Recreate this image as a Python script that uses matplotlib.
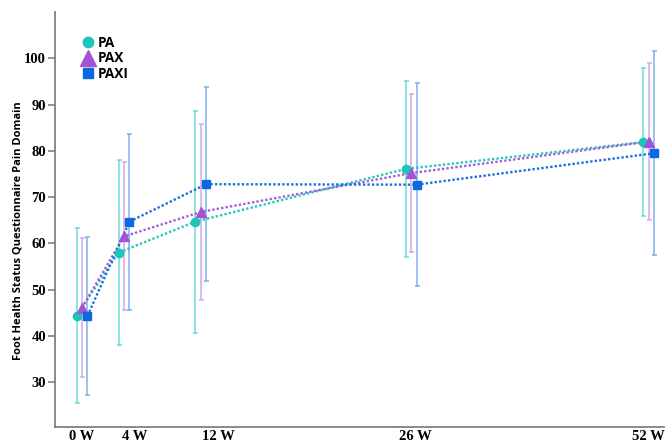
import matplotlib
matplotlib.use("Agg")
import matplotlib.pyplot as plt
from matplotlib.lines import Line2D

# ---- data ----
time_labels = ["0 W", "4 W", "12 W", "26 W", "52 W"]
group_pos = [0, 3.85, 10.9, 30.2, 52]          # marker group centres on the axis
label_pos = [0, 4.85, 12.5, 30.6, 52]          # tick label positions
groups = ["PA", "PAX", "PAXI"]
pa_mean = [44.4, 58.0, 64.7, 76.1, 81.9]
pa_sd = [19.0, 20.0, 24.0, 19.0, 16.0]
pax_mean = [46.1, 61.5, 66.8, 75.2, 82.0]
pax_sd = [15.0, 16.0, 19.0, 17.0, 17.0]
paxi_mean = [44.3, 64.7, 72.8, 72.7, 79.5]
paxi_sd = [17.0, 19.0, 21.0, 22.0, 22.0]

means = [pa_mean, pax_mean, paxi_mean]
sds = [pa_sd, pax_sd, paxi_sd]
offsets = [-0.5, 0.0, 0.5]
markers = ["o", "^", "s"]
msizes = [6, 7.5, 6]
mcolors = ["#1CC6B6", "#A452D8", "#0A68E0"]
ecolors = ["#52D6D0", "#C89AEC", "#6AA3EC"]
lcolors = ["#22C9BC", "#A85CDB", "#1A6FE2"]

fig = plt.figure(figsize=(6.65, 4.43), dpi=100)
ax = fig.add_axes([55/665, 16/443, 1 - 55/665, (427 - 11.7)/443])

for i in range(3):
    xs = [p + offsets[i] for p in group_pos]
    ax.errorbar(xs, means[i], yerr=sds[i], fmt="none", ecolor=ecolors[i],
                elinewidth=1.1, capsize=1.8, capthick=1.1, alpha=0.85, zorder=2)
    ax.plot(xs, means[i], linestyle=(0, (1, 0.9)), linewidth=1.7,
            color=lcolors[i], zorder=3)
    ax.plot(xs, means[i], linestyle="none", marker=markers[i],
            markersize=msizes[i], color=mcolors[i], zorder=4)

ax.set_xlim(-2.48, 53.5)
ax.set_ylim(20.3, 110.1)
ax.set_yticks([30, 40, 50, 60, 70, 80, 90, 100])
ax.set_xticks(label_pos)
ax.set_xticklabels(time_labels)

for lab in ax.get_xticklabels() + ax.get_yticklabels():
    lab.set_fontfamily("Liberation Serif")
    lab.set_fontweight("bold")
    lab.set_fontsize(10.5)

ax.tick_params(axis="x", length=0, pad=2.5)
ax.tick_params(axis="y", length=5, width=1.1, color="#777777", pad=1.5)

for s in ["top", "right"]:
    ax.spines[s].set_visible(False)
for s in ["left", "bottom"]:
    ax.spines[s].set_color("#777777")
    ax.spines[s].set_linewidth(1.2)

ax.set_ylabel("Foot Health Status Questionnaire Pain Domain",
              fontfamily="Open Sans", fontweight="bold", fontsize=8.0)
ax.yaxis.set_label_coords(-0.051, 0.472)

handles = [Line2D([], [], linestyle="none", marker=markers[i], color=mcolors[i],
                  markersize=[7.5, 11, 7][i]) for i in range(3)]
leg = ax.legend(handles, groups, loc="upper left", bbox_to_anchor=(0.03, 0.965),
                frameon=False, handlelength=0.8, handletextpad=0.3,
                labelspacing=0.12, borderpad=0.2,
                prop=dict(family="Open Sans", weight="bold", size=9.8))

fig.savefig("out.png", dpi=100)
